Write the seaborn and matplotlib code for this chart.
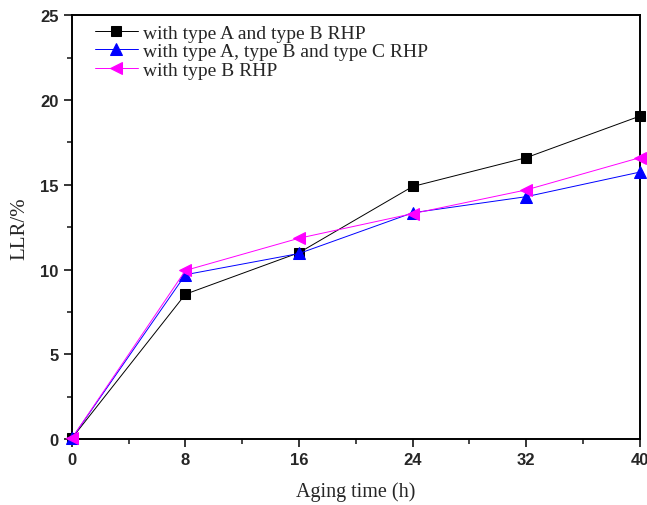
import pandas as pd
import seaborn as sns
import matplotlib.pyplot as plt
from matplotlib.ticker import MultipleLocator

# data
aging_time = [0, 8, 16, 24, 32, 40]
llr_ab = [0.05, 8.55, 11.0, 14.9, 16.6, 19.05]
llr_abc = [0.05, 9.7, 10.95, 13.35, 14.3, 15.75]
llr_b = [0.05, 9.95, 11.85, 13.3, 14.7, 16.6]
series_labels = [
    'with type A and type B RHP',
    'with type A, type B and type C RHP',
    'with type B RHP',
]


def main():
    sns.set_style('ticks')
    plt.rcParams['font.family'] = ['Liberation Sans', 'DejaVu Sans']

    fig = plt.figure(figsize=(6.47, 5.06), dpi=100)
    ax = fig.add_axes([0.111, 0.130, 0.878, 0.838])

    styles = [
        (llr_ab, 'black', 's', 7.5),
        (llr_abc, 'blue', '^', 8.5),
        (llr_b, 'magenta', '<', 8.5),
    ]
    for (values, color, marker, size), label in zip(styles, series_labels):
        df = pd.DataFrame({'time': aging_time, 'llr': values})
        sns.lineplot(data=df, x='time', y='llr', ax=ax, color=color,
                     marker=marker, markersize=size, markeredgecolor=color,
                     linewidth=0.7, label=label, clip_on=False, zorder=3)

    ax.set_xlim(0, 40)
    ax.set_ylim(0, 25)
    ax.set_xticks(aging_time)
    ax.xaxis.set_minor_locator(MultipleLocator(4))
    ax.yaxis.set_major_locator(MultipleLocator(5))
    ax.yaxis.set_minor_locator(MultipleLocator(2.5))
    ax.tick_params(which='major', direction='out', length=6, width=1.3,
                   labelsize=12, top=False, right=False)
    ax.tick_params(which='minor', direction='out', length=3.5, width=1.2,
                   top=False, right=False)
    for lbl in ax.get_xticklabels() + ax.get_yticklabels():
        lbl.set_fontweight('bold')
    for spine in ax.spines.values():
        spine.set_linewidth(1.4)
        spine.set_color('black')

    ax.set_xlabel('Aging time (h)', family='Liberation Serif', fontsize=14.5,
                  labelpad=10)
    ax.set_ylabel('LLR/%', family='Liberation Serif', fontsize=15,
                  labelpad=8)

    ax.legend(loc='upper left', frameon=False, bbox_to_anchor=(0.025, 1.0),
              prop={'family': 'Liberation Serif', 'size': 14},
              handlelength=2.2, handletextpad=0.3, labelspacing=0.05,
              borderaxespad=0.05)

    fig.savefig('out.png', dpi=100)
    plt.close(fig)


if __name__ == '__main__':
    main()
